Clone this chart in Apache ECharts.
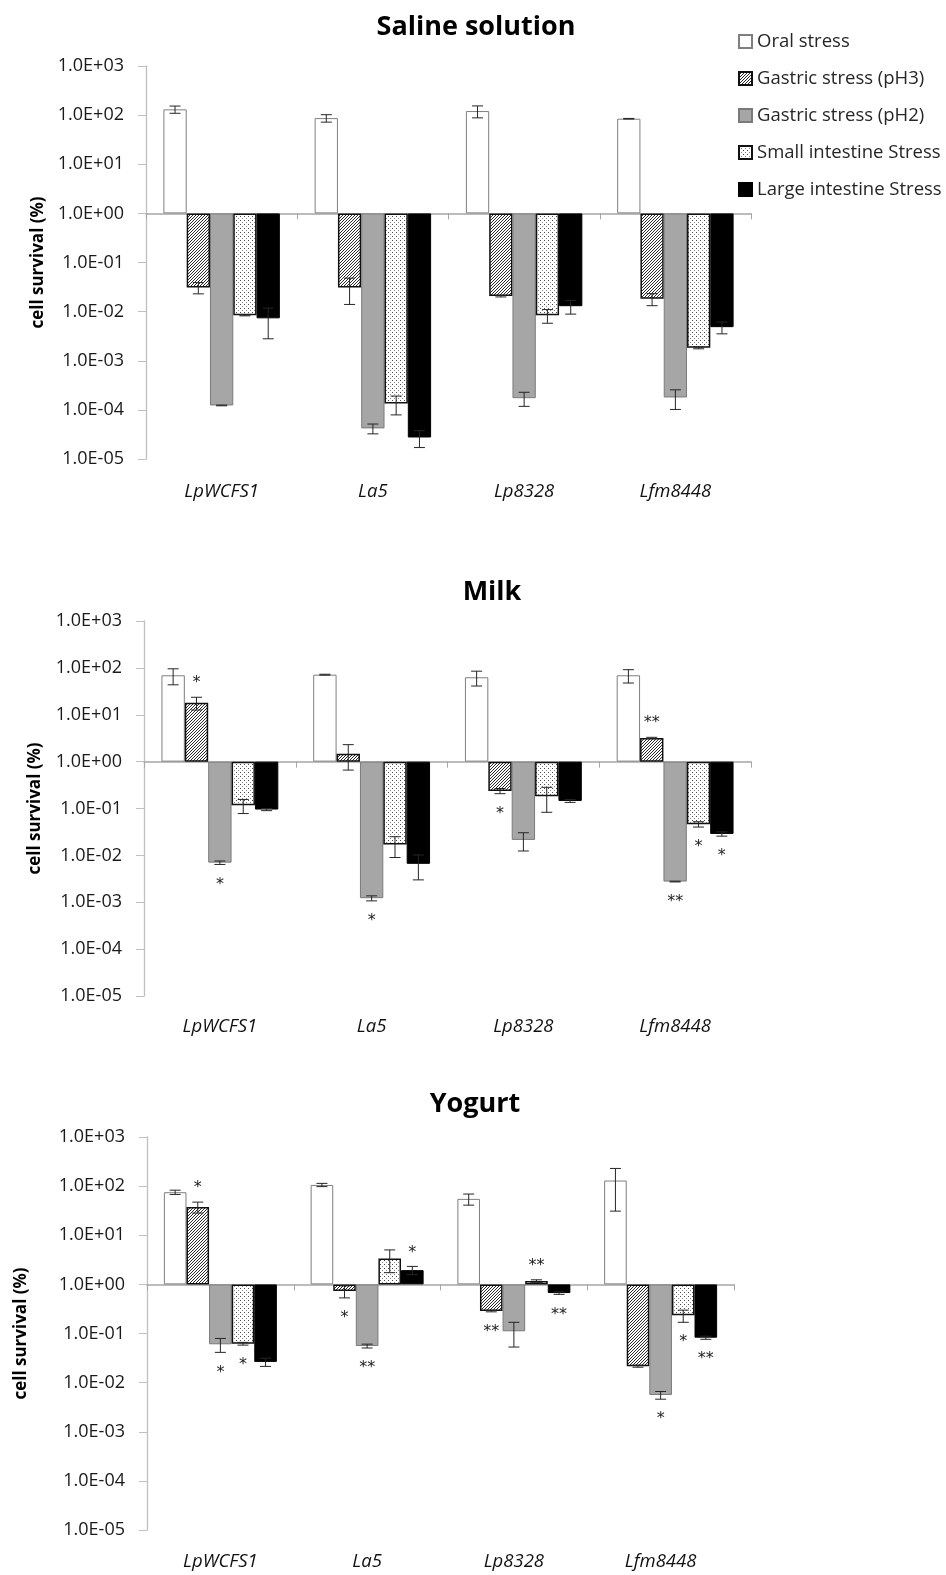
<!DOCTYPE html>
<html>
<head>
<meta charset="utf-8">
<title>Cell survival under simulated gastrointestinal stress</title>
<script src="https://cdn.jsdelivr.net/npm/echarts@6/dist/echarts.min.js"></script>
<style>
  html, body { margin: 0; padding: 0; background: #fff; }
  #chart { width: 946px; height: 1575px; }
</style>
</head>
<body>
<div id="chart"></div>
<script>
// Strains and stress conditions
const strains = ['LpWCFS1', 'La5', 'Lp8328', 'Lfm8448'];
const stresses = ['Oral stress', 'Gastric stress (pH3)', 'Gastric stress (pH2)',
                  'Small intestine Stress', 'Large intestine Stress'];
const panelTitles = ['Saline solution', 'Milk', 'Yogurt'];
const yBounds = [1e-5, 1e3];

// Cell survival (%) — rows follow `stresses`, columns follow `strains`
const salineMeans = [
  [131, 87, 121, 84.5],
  [0.031, 0.031, 0.0207, 0.0182],
  [1.23e-4, 4.2e-5, 1.73e-4, 1.79e-4],
  [0.0084, 1.35e-4, 0.0084, 1.83e-3],
  [0.0073, 2.74e-5, 0.0129, 4.83e-3]
];
const salineSd = [
  [22, 15, 33, 1.2],
  [0.008, 0.017, 0.0008, 0.005],
  [0.02e-4, 0.95e-5, 0.55e-4, 0.77e-4],
  [0.0002, 0.56e-4, 0.0026, 0.08e-3],
  [0.0045, 1.03e-5, 0.004, 1.3e-3]
];
const salineStars = [
  ['', '', '', ''], ['', '', '', ''], ['', '', '', ''], ['', '', '', ''], ['', '', '', '']
];

const milkMeans = [
  [69.5, 71.6, 63, 69.5],
  [18.1, 1.48, 0.237, 3.2],
  [7.0e-3, 1.22e-3, 0.0214, 2.76e-3],
  [0.117, 0.017, 0.183, 0.0462],
  [0.095, 6.6e-3, 0.145, 0.0287]
];
const milkSd = [
  [26, 1.5, 22, 22],
  [5.5, 0.82, 0.03, 0.1],
  [0.6e-3, 0.15e-3, 0.009, 0.05e-3],
  [0.039, 0.008, 0.1, 0.006],
  [0.005, 3.6e-3, 0.01, 0.003]
];
const milkStars = [
  ['', '', '', ''],
  ['*', '', '*', '**'],
  ['*', '*', '', '**'],
  ['', '', '', '*'],
  ['', '', '', '*']
];

const yogurtMeans = [
  [75.2, 105.7, 55, 130],
  [37.8, 0.731, 0.286, 0.0216],
  [0.0603, 0.0557, 0.111, 5.6e-3],
  [0.062, 3.38, 1.17, 0.234],
  [0.0264, 1.95, 0.666, 0.0822]
];
const yogurtSd = [
  [7.5, 8, 14, 99],
  [9.5, 0.2, 0.01, 0.001],
  [0.019, 0.005, 0.058, 1e-3],
  [0.004, 1.65, 0.07, 0.065],
  [0.005, 0.37, 0.04, 0.006]
];
const yogurtStars = [
  ['', '', '', ''],
  ['*', '*', '**', ''],
  ['*', '**', '', '*'],
  ['*', '', '**', '*'],
  ['', '*', '**', '**']
];

const panelMeans = [salineMeans, milkMeans, yogurtMeans];
const panelSd = [salineSd, milkSd, yogurtSd];
const panelStars = [salineStars, milkStars, yogurtStars];

// Panel geometry
const layout = [
  { left: 146, right: 195, top: 66,   height: 393, titleX: 476, titleTop: 14,   nameGap: 97,  labelMargin: 23 },
  { left: 144, right: 195, top: 621,  height: 375, titleX: 492, titleTop: 579,  nameGap: 100, labelMargin: 21 },
  { left: 147, right: 212, top: 1137, height: 393, titleX: 475, titleTop: 1091, nameGap: 117, labelMargin: 22 }
];
const CAT_GAP = 0.23;
const FONT = '"Open Sans", "Noto Sans", sans-serif';

// Fill patterns
function patternCanvas(size, draw) {
  const c = document.createElement('canvas');
  c.width = size; c.height = size;
  const g = c.getContext('2d');
  g.fillStyle = '#ffffff';
  g.fillRect(0, 0, size, size);
  draw(g);
  return c;
}
const hatchFill = patternCanvas(3, g => {
  g.fillStyle = '#2a2a2a';
  g.fillRect(2, 0, 1, 1);
  g.fillRect(1, 1, 1, 1);
  g.fillRect(0, 2, 1, 1);
});
const dotFill = patternCanvas(4, g => {
  g.fillStyle = '#4a4a4a';
  g.fillRect(0, 0, 1, 1);
  g.fillStyle = '#8a8a8a';
  g.fillRect(2, 2, 1, 1);
});

const barStyles = [
  { color: '#ffffff', borderColor: '#7f7f7f', borderWidth: 1 },
  { color: { image: hatchFill, repeat: 'repeat' }, borderColor: '#111111', borderWidth: 1.5 },
  { color: '#a6a6a6', borderColor: '#7a7a7a', borderWidth: 1 },
  { color: { image: dotFill, repeat: 'repeat' }, borderColor: '#111111', borderWidth: 1.5 },
  { color: '#000000', borderColor: '#000000', borderWidth: 1 }
];

function expLabel(v) {
  const e = Math.round(Math.log10(v));
  return '1.0E' + (e < 0 ? '-' : '+') + String(Math.abs(e)).padStart(2, '0');
}

const grid = [], xAxis = [], yAxis = [], series = [], title = [];
const logSpan = Math.log10(yBounds[1]) - Math.log10(yBounds[0]);
const baseFrac = (0 - Math.log10(yBounds[0])) / logSpan;

layout.forEach((L, g) => {
  grid.push({ left: L.left, right: L.right, top: L.top, height: L.height });
  title.push({
    text: panelTitles[g], left: L.titleX, top: L.titleTop, textAlign: 'center', padding: 0,
    textStyle: { fontFamily: FONT, fontSize: 27, fontWeight: 'bold', color: '#000' }
  });
  // category labels along the bottom
  xAxis.push({
    type: 'category', gridIndex: g, data: strains, position: 'bottom',
    axisLine: { show: false }, axisTick: { show: false },
    axisLabel: { margin: L.labelMargin, fontFamily: FONT, fontSize: 18.5, fontStyle: 'italic', color: '#111' }
  });
  yAxis.push({
    type: 'log', logBase: 10, gridIndex: g, min: yBounds[0], max: yBounds[1], splitNumber: 8,
    name: 'cell survival (%)', nameLocation: 'middle', nameGap: L.nameGap,
    nameTextStyle: { fontFamily: FONT, fontSize: 17, fontWeight: 'bold', color: '#000' },
    axisLine: { show: true, lineStyle: { color: '#bfbfbf', width: 1.3 } },
    axisTick: { show: true, length: 8, lineStyle: { color: '#bfbfbf' } },
    axisLabel: { margin: 22, fontFamily: FONT, fontSize: 18, color: '#1a1a1a', formatter: expLabel },
    splitLine: { show: false }, minorTick: { show: false }
  });

  const means = panelMeans[g], sds = panelSd[g], stars = panelStars[g];
  means.forEach((vals, k) => {
    series.push({
      type: 'bar', name: stresses[k], xAxisIndex: g, yAxisIndex: g,
      data: vals, barGap: '0%', barCategoryGap: (CAT_GAP * 100) + '%',
      itemStyle: barStyles[k], silent: true, z: 3
    });
  });

  const errData = [];
  means.forEach((vals, k) => vals.forEach((v, c) => errData.push([c, v, sds[k][c], k])));
  series.push({
    type: 'custom', xAxisIndex: g, yAxisIndex: g, z: 6, silent: true,
    encode: { x: 0, y: 1 }, data: errData,
    renderItem(params, api) {
      const c = api.value(0), v = api.value(1), sd = api.value(2), k = api.value(3);
      const band = api.coord([1, 1])[0] - api.coord([0, 1])[0];
      const bw = band * (1 - CAT_GAP) / 5;
      const x = api.coord([c, v])[0] + (k - 2) * bw;
      const yHi = api.coord([c, v + sd])[1];
      const lo = Math.max(v - sd, yBounds[0]);
      const yLo = api.coord([c, lo])[1];
      const cap = 5.5;
      const stroke = { stroke: '#262626', lineWidth: 1 };
      const children = [
        { type: 'line', shape: { x1: x, y1: yHi, x2: x, y2: yLo }, style: stroke },
        { type: 'line', shape: { x1: x - cap, y1: yHi, x2: x + cap, y2: yHi }, style: stroke },
        { type: 'line', shape: { x1: x - cap, y1: yLo, x2: x + cap, y2: yLo }, style: stroke }
      ];
      const s = stars[k][c];
      if (s) {
        const ty = v >= 1 ? yHi - 17 : yLo + 17;
        children.push({
          type: 'text',
          style: { text: s, x: x, y: ty + 3, align: 'center', verticalAlign: 'middle',
                   font: '16px "DejaVu Sans", sans-serif', fill: '#222' }
        });
      }
      return { type: 'group', children };
    }
  });
});

// baseline axes crossing at 1.0E+00, with ticks between strains
layout.forEach((L, g) => {
  xAxis.push({
    type: 'category', gridIndex: g, data: strains, position: 'bottom',
    offset: -L.height * baseFrac,
    axisLine: { show: true, lineStyle: { color: '#a6a6a6', width: 1.5 } },
    axisTick: { show: true, length: 6, lineStyle: { color: '#a6a6a6' } },
    axisLabel: { show: false }
  });
});

const chart = echarts.init(document.getElementById('chart'), null, { renderer: 'canvas' });
chart.setOption({
  animation: false,
  backgroundColor: '#ffffff',
  title,
  legend: {
    data: stresses, orient: 'vertical', left: 738, top: 32, padding: 0,
    icon: 'rect', itemWidth: 13, itemHeight: 13, itemGap: 18,
    selectedMode: false,
    textStyle: { fontFamily: FONT, fontSize: 18.5, color: '#262626', lineHeight: 19 }
  },
  grid, xAxis, yAxis, series
});
</script>
</body>
</html>
